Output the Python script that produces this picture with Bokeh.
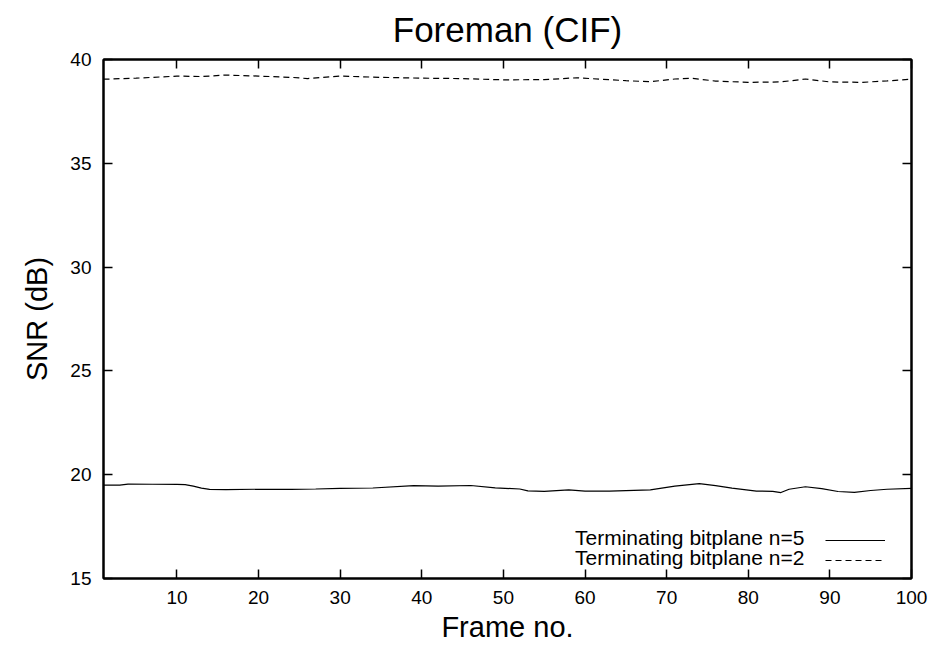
from bokeh.plotting import figure
from bokeh.models import (Range1d, LinearAxis, FixedTicker, Legend, LegendItem)
from bokeh.embed import file_html
from bokeh.resources import INLINE

# ---- data ----
frames_n5 = [1, 3, 4, 7, 10, 11, 12, 13, 14, 16, 20, 24, 27, 30, 34, 39, 42, 46, 49,
             52, 53, 55, 58, 60, 63, 68, 71, 74, 76, 78, 81, 83, 84, 85, 87, 89, 91,
             93, 95, 97, 100]
snr_n5 = [19.50, 19.50, 19.55, 19.54, 19.53, 19.52, 19.45, 19.35, 19.29, 19.28, 19.30,
          19.29, 19.31, 19.34, 19.36, 19.47, 19.45, 19.48, 19.37, 19.31, 19.22, 19.20,
          19.27, 19.21, 19.21, 19.27, 19.45, 19.57, 19.47, 19.35, 19.21, 19.20, 19.14,
          19.30, 19.42, 19.33, 19.19, 19.15, 19.24, 19.30, 19.34]

frames_n2 = [1, 5, 10, 13, 16, 20, 24, 26, 30, 35, 40, 45, 50, 55, 59, 62, 65, 68, 71,
             73, 76, 80, 84, 87, 90, 94, 97, 100]
snr_n2 = [39.05, 39.10, 39.20, 39.18, 39.25, 39.20, 39.14, 39.08, 39.20, 39.14, 39.10,
          39.08, 39.02, 39.03, 39.12, 39.05, 38.98, 38.93, 39.06, 39.10, 38.96, 38.90,
          38.92, 39.06, 38.92, 38.90, 38.97, 39.05]

x_ticks = [10, 20, 30, 40, 50, 60, 70, 80, 90, 100]
y_ticks = [15, 20, 25, 30, 35, 40]
title_text = "Foreman (CIF)"
label_n5 = "Terminating bitplane n=5"
label_n2 = "Terminating bitplane n=2"

FONT = "Liberation Sans"

p = figure(width=935, height=647, output_backend="svg", toolbar_location=None,
           x_range=Range1d(1, 100), y_range=Range1d(15, 40),
           min_border_left=103, min_border_right=24, min_border_top=59,
           min_border_bottom=69, title=title_text)
p.background_fill_color = "white"
p.border_fill_color = "white"
p.outline_line_color = "black"
p.outline_line_width = 2
p.xgrid.visible = False
p.ygrid.visible = False

p.title.text_font = FONT
p.title.text_font_size = "35px"
p.title.text_font_style = "normal"
p.title.align = "center"
p.title.text_color = "black"
p.title.vertical_align = "top"
p.title.standoff = 18

def style_axis(ax, show_labels):
    ax.major_tick_in = 9
    ax.major_tick_out = 0
    ax.minor_tick_in = 0
    ax.minor_tick_out = 0
    ax.major_tick_line_width = 1.5
    ax.major_tick_line_color = "black"
    ax.axis_line_width = 2
    ax.axis_line_color = "black"
    ax.major_label_text_font = FONT
    ax.major_label_text_color = "black"
    if show_labels:
        ax.major_label_text_font_size = "19px"
        ax.major_label_standoff = 12
    else:
        ax.major_label_text_font_size = "0px"
        ax.major_label_standoff = 0

xax = p.xaxis[0]
xax.ticker = FixedTicker(ticks=x_ticks)
style_axis(xax, True)
xax.axis_label = "Frame no."
xax.axis_label_text_font = FONT
xax.axis_label_text_font_size = "29px"
xax.axis_label_text_font_style = "normal"
xax.axis_label_text_color = "black"
xax.axis_label_standoff = 4

yax = p.yaxis[0]
yax.ticker = FixedTicker(ticks=y_ticks)
style_axis(yax, True)
yax.axis_label = "SNR (dB)"
yax.axis_label_text_font = FONT
yax.axis_label_text_font_size = "29px"
yax.axis_label_text_font_style = "normal"
yax.axis_label_text_color = "black"
yax.axis_label_standoff = 14

top_ax = LinearAxis(ticker=FixedTicker(ticks=x_ticks))
style_axis(top_ax, False)
p.add_layout(top_ax, "above")
right_ax = LinearAxis(ticker=FixedTicker(ticks=y_ticks))
style_axis(right_ax, False)
p.add_layout(right_ax, "right")

r5 = p.line(frames_n5, snr_n5, line_color="black", line_width=1.2)
r2 = p.line(frames_n2, snr_n2, line_color="black", line_width=1.2, line_dash="6 4")

common = dict(padding=0, margin=0, spacing=0, border_line_alpha=0,
              background_fill_alpha=0, label_text_font=FONT,
              label_text_font_size="21px", label_height=20, glyph_height=20,
              orientation="vertical")

# gnuplot-style key: text first, then the line sample; one legend per row piece
for label, rend, row_y in [(label_n5, r5, 28), (label_n2, r2, 8)]:
    p.add_layout(Legend(items=[LegendItem(label=label, renderers=[rend])],
                        location=(472, row_y), glyph_width=0, label_standoff=0,
                        label_text_color="black", **common))
    p.add_layout(Legend(items=[LegendItem(label=" ", renderers=[rend])],
                        location=(722, row_y), glyph_width=60, label_standoff=0,
                        label_width=0, label_text_alpha=0, **common))

open("out.html", "w").write(file_html(p, INLINE))
